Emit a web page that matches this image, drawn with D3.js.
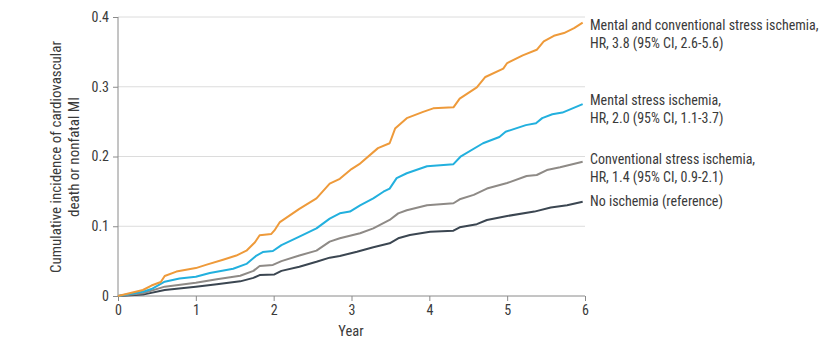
<!DOCTYPE html>
<html><head><meta charset="utf-8">
<script src="https://cdn.jsdelivr.net/npm/d3@7"></script>
<style>
body{margin:0;background:#fff;}
text{font-family:"Liberation Sans Narrow","Arial Narrow","Roboto Condensed","Liberation Sans",sans-serif;fill:#3a3a3a;}
</style></head><body>
<svg id="chart" width="832" height="356"></svg>
<script>
const yTicks = [0, 0.1, 0.2, 0.3, 0.4];
const xTicks = [0, 1, 2, 3, 4, 5, 6];
const yTickLabels = ["0", "0.1", "0.2", "0.3", "0.4"];

const mixedT = [0,0.32,0.43,0.55,0.6,0.75,1.0,1.14,1.35,1.52,1.65,1.76,1.82,1.97,2.01,2.08,2.33,2.55,2.72,2.85,3.0,3.1,3.34,3.49,3.56,3.71,3.92,4.05,4.31,4.39,4.61,4.72,4.95,5.0,5.2,5.38,5.47,5.6,5.73,5.86,5.97];
const mixedV = [0,0.0086,0.015,0.02,0.0287,0.035,0.040,0.045,0.052,0.058,0.065,0.077,0.087,0.089,0.094,0.106,0.125,0.140,0.161,0.168,0.182,0.189,0.212,0.219,0.240,0.255,0.264,0.269,0.2705,0.283,0.299,0.314,0.326,0.334,0.345,0.353,0.365,0.373,0.377,0.384,0.392];

const mentalT = [0,0.32,0.43,0.6,0.79,1.0,1.18,1.48,1.65,1.78,1.86,1.99,2.1,2.33,2.55,2.72,2.85,2.98,3.11,3.28,3.41,3.49,3.58,3.71,3.97,4.31,4.4,4.69,4.9,4.98,5.24,5.37,5.45,5.58,5.71,5.97];
const mentalV = [0,0.006,0.010,0.0205,0.025,0.0277,0.033,0.039,0.046,0.058,0.063,0.0645,0.073,0.085,0.097,0.111,0.1185,0.121,0.130,0.140,0.1495,0.154,0.169,0.176,0.186,0.189,0.1997,0.219,0.228,0.2355,0.245,0.2476,0.255,0.2605,0.263,0.275];

const convT = [0,0.32,0.6,1.0,1.27,1.57,1.74,1.82,1.99,2.1,2.33,2.55,2.72,2.85,3.11,3.28,3.49,3.6,3.71,3.97,4.31,4.39,4.57,4.74,5.0,5.25,5.38,5.51,5.68,5.97];
const convV = [0,0.004,0.0134,0.019,0.024,0.029,0.036,0.043,0.0445,0.050,0.058,0.065,0.078,0.0827,0.090,0.097,0.109,0.1185,0.123,0.130,0.133,0.1386,0.145,0.154,0.162,0.172,0.1735,0.1806,0.1845,0.1925];

const noneT = [0,0.32,0.6,1.0,1.27,1.57,1.74,1.82,2.01,2.1,2.33,2.55,2.72,2.85,3.07,3.28,3.49,3.6,3.75,4.01,4.31,4.39,4.61,4.74,5.0,5.35,5.56,5.77,5.97];
const noneV = [0,0.002,0.0086,0.0134,0.017,0.021,0.026,0.030,0.031,0.036,0.042,0.049,0.055,0.0573,0.0635,0.070,0.0755,0.0827,0.0875,0.092,0.0937,0.0985,0.103,0.109,0.1147,0.121,0.127,0.130,0.135];

const seriesNames = ["mixed","mental","conventional","none"];
const seriesColors = ["#EE9A3A","#22B0DE","#8E8A86","#3B4651"];
const labelLines = [
  ["Mental and conventional stress ischemia,","HR, 3.8 (95% CI, 2.6-5.6)"],
  ["Mental stress ischemia,","HR, 2.0 (95% CI, 1.1-3.7)"],
  ["Conventional stress ischemia,","HR, 1.4 (95% CI, 0.9-2.1)"],
  ["No ischemia (reference)"]
];
const labelY = [30, 105, 164, 206];

const svg = d3.select("#chart");
const x = d3.scaleLinear().domain([0,6]).range([118,585]);
const y = d3.scaleLinear().domain([0,0.4]).range([296,17]);

svg.append("g").selectAll("line").data(yTicks.slice(1)).join("line")
  .attr("x1",118).attr("x2",585).attr("y1",d=>y(d)).attr("y2",d=>y(d))
  .attr("stroke","#dcdcdc").attr("stroke-width",1);

const ya = svg.append("g").attr("transform","translate(118,0)")
  .call(d3.axisLeft(y).tickValues(yTicks).tickFormat((d,i)=>yTickLabels[i]).tickSize(5).tickPadding(4));
ya.select(".domain").attr("stroke","#8a8a8a").attr("d","M0,17V296");
ya.selectAll(".tick line").attr("stroke","#8a8a8a");
ya.selectAll("text").attr("font-size",14).style("fill","#3a3a3a");

const xa = svg.append("g").attr("transform","translate(0,296)")
  .call(d3.axisBottom(x).tickValues(xTicks).tickFormat(d3.format("d")).tickSize(5).tickPadding(4));
xa.select(".domain").attr("stroke","#8a8a8a").attr("d","M118,0H585");
xa.selectAll(".tick line").attr("stroke","#8a8a8a");
xa.selectAll("text").attr("font-size",14).style("fill","#3a3a3a");

const data = [
  d3.zip(mixedT, mixedV),
  d3.zip(mentalT, mentalV),
  d3.zip(convT, convV),
  d3.zip(noneT, noneV)
];
const line = d3.line().x(d=>x(d[0])).y(d=>y(d[1]));
svg.append("g").selectAll("path").data(data.slice().reverse()).join("path")
  .attr("d",line).attr("fill","none")
  .attr("stroke",(d,i)=>seriesColors[3-i]).attr("stroke-width",2).attr("stroke-linejoin","round");

const lg = svg.append("g");
labelLines.forEach((lines,i)=>{
  const t = lg.append("text").attr("x",590).attr("y",labelY[i]).attr("font-size",14);
  lines.forEach((l,j)=>t.append("tspan").attr("x",590).attr("dy",j?18:0).text(l));
});

svg.append("text").attr("x",351).attr("y",336).attr("text-anchor","middle").attr("font-size",14.5).text("Year");
const yt = svg.append("text").attr("transform","translate(0,157) rotate(-90)").attr("text-anchor","middle").attr("font-size",15);
yt.append("tspan").attr("x",0).attr("y",61).text("Cumulative incidence of cardiovascular");
yt.append("tspan").attr("x",0).attr("y",79).text("death or nonfatal MI");
</script></body></html>
